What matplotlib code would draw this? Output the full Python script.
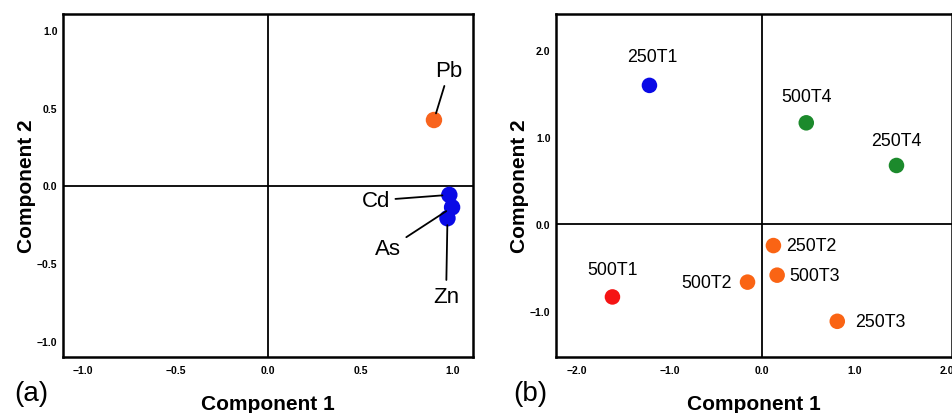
import matplotlib.pyplot as plt

plt.rcParams['font.family'] = ['Liberation Sans', 'DejaVu Sans']

# loadings plot (a)
elements = ['Pb', 'Cd', 'As', 'Zn']
load_c1 = [0.897, 0.98, 0.995, 0.97]
load_c2 = [0.42, -0.06, -0.14, -0.21]
load_colors = ['#F8641E', '#0A0AE6', '#0A0AE6', '#0A0AE6']
# label offsets (points) for the leader lines
load_offsets = [(11, 36), (-53, -4), (-46, -30), (-1, -56)]

# scores plot (b)
samples = ['250T1', '500T4', '250T4', '250T2', '500T3', '500T2', '500T1', '250T3']
score_c1 = [-1.22, 0.475, 1.45, 0.12, 0.16, -0.16, -1.62, 0.81]
score_c2 = [1.59, 1.16, 0.67, -0.25, -0.59, -0.67, -0.84, -1.12]
score_colors = ['#0A0AE6', '#1C8A2C', '#1C8A2C', '#FA6414', '#FA6414',
                '#FA6414', '#F51414', '#FA6414']
score_offsets = [(2, 21, 'center'), (0, 19, 'center'), (0, 18, 'center'),
                 (9, 0, 'left'), (9, 0, 'left'), (-11, 0, 'right'),
                 (0, 20, 'center'), (13, 0, 'left')]

a_xticks = [-1.0, -0.5, 0.0, 0.5, 1.0]
a_yticks = [-1.0, -0.5, 0.0, 0.5, 1.0]
b_xticks = [-2.0, -1.0, 0.0, 1.0, 2.0]
b_yticks = [-1.0, 0.0, 1.0, 2.0]

fig = plt.figure(figsize=(9.53, 4.14), dpi=100)
ax1 = fig.add_axes([63 / 953, 1 - 358 / 414, 410 / 953, 343 / 414])
ax2 = fig.add_axes([556 / 953, 1 - 358 / 414, 396 / 953, 343 / 414])


def style_axes(ax, xticks, yticks, width_px):
    ax.axhline(0, color='black', lw=1.3, zorder=1)
    ax.axvline(0, color='black', lw=1.3, zorder=1)
    for s in ax.spines.values():
        s.set_linewidth(1.8)
    ax.set_xticks(xticks)
    ax.set_yticks(yticks)
    ax.set_xticklabels([f'{t:.1f}'.replace('-', '\u2212') for t in xticks])
    ax.set_yticklabels([f'{t:.1f}'.replace('-', '\u2212') for t in yticks])
    ax.tick_params(length=0, labelsize=7.5)
    ax.tick_params(axis='x', pad=6)
    ax.tick_params(axis='y', pad=4)
    for lab in ax.get_xticklabels() + ax.get_yticklabels():
        lab.set_fontweight('bold')
    ax.set_xlabel('Component 1', fontsize=15, fontweight='bold')
    ax.set_ylabel('Component 2', fontsize=15, fontweight='bold')
    ax.xaxis.set_label_coords(0.5, -37 / 343)
    ax.yaxis.set_label_coords(-27 / width_px, 0.5)


# panel (a)
ax1.set_xlim(-1.108, 1.108)
ax1.set_ylim(-1.10, 1.10)
style_axes(ax1, a_xticks, a_yticks, 410)
ax1.scatter(load_c1, load_c2, s=140, c=load_colors, zorder=3, edgecolors='none')
for name, x, y, (dx, dy) in zip(elements, load_c1, load_c2, load_offsets):
    ax1.annotate(name, (x, y), xytext=(dx, dy), textcoords='offset points',
                 ha='center', va='center', fontsize=16,
                 arrowprops=dict(arrowstyle='-', color='black', lw=1.3,
                                 shrinkA=2, shrinkB=5))

# panel (b)
ax2.set_xlim(-2.23, 2.05)
ax2.set_ylim(-1.53, 2.41)
style_axes(ax2, b_xticks, b_yticks, 396)
ax2.scatter(score_c1, score_c2, s=125, c=score_colors, zorder=3, edgecolors='none')
for name, x, y, (dx, dy, ha) in zip(samples, score_c1, score_c2, score_offsets):
    ax2.annotate(name, (x, y), xytext=(dx, dy), textcoords='offset points',
                 ha=ha, va='center', fontsize=12.8)

fig.text(31 / 953, 1 - 394 / 414, '(a)', fontsize=20, ha='center', va='center')
fig.text(530 / 953, 1 - 394 / 414, '(b)', fontsize=20, ha='center', va='center')

fig.savefig('out.png', dpi=100)
